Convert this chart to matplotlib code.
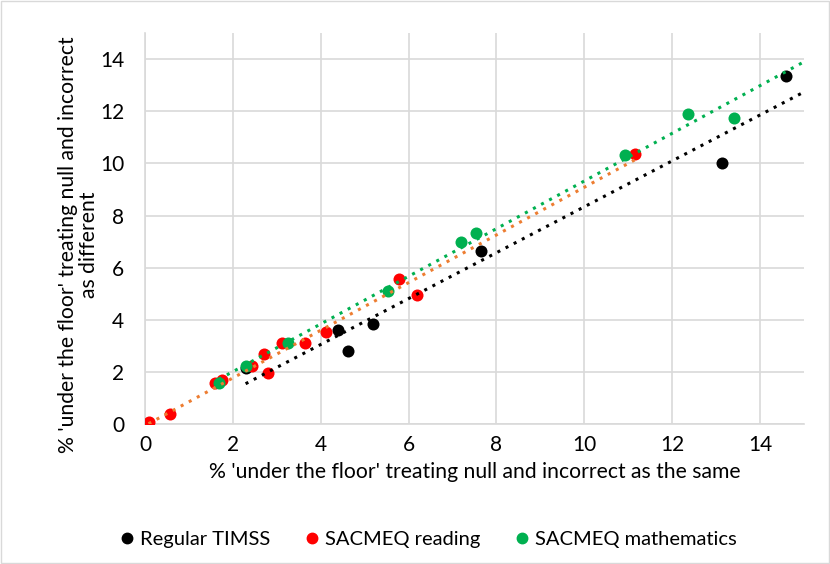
import numpy as np
import matplotlib.pyplot as plt
import matplotlib as mpl
from matplotlib.patches import Rectangle
from matplotlib.lines import Line2D

mpl.rcParams["font.family"] = ["Lato", "DejaVu Sans"]
FONT_TICK = 15
FONT_TITLE = 15.2
FONT_LEG = 14.5

# Regular TIMSS
timss_x = [2.29, 4.40, 4.63, 5.18, 7.65, 13.13, 14.59]
timss_y = [2.16, 3.61, 2.81, 3.84, 6.64, 10.00, 13.36]
# SACMEQ reading
read_x = [0.08, 0.57, 1.59, 1.76, 2.44, 2.70, 2.79, 3.11, 3.64, 4.12, 5.77, 6.20, 11.16]
read_y = [0.08, 0.39, 1.59, 1.70, 2.25, 2.69, 1.98, 3.10, 3.10, 3.55, 5.56, 4.94, 10.38]
# SACMEQ mathematics
math_x = [1.68, 2.31, 3.25, 5.52, 7.19, 7.54, 10.93, 12.35, 13.41]
math_y = [1.59, 2.25, 3.10, 5.12, 7.00, 7.32, 10.32, 11.90, 11.76]

series = [
    ("Regular TIMSS", timss_x, timss_y, "black", "black", 15),
    ("SACMEQ reading", read_x, read_y, "#FF0000", "#ED7D31", None),
    ("SACMEQ mathematics", math_x, math_y, "#00B050", "#00B050", 15),
]

fig = plt.figure(figsize=(8.3, 5.64), dpi=100)
ax = fig.add_axes([0.1747, 0.2477, 0.7940, 0.6938])

for name, xs, ys, col, tcol, xend in series:
    xs = np.array(xs)
    ys = np.array(ys)
    ax.scatter(xs, ys, s=75, color=col, zorder=3, label=name, linewidths=0)
    # linear trendline (Excel style, dotted)
    k, b = np.polyfit(xs, ys, 1)
    x1 = xs.max() if xend is None else xend
    tx = np.array([xs.min(), x1])
    ax.plot(tx, k * tx + b, linestyle=(0, (1, 2)), color=tcol, linewidth=2.2,
            zorder=4)

ax.set_xlim(0, 15)
ax.set_ylim(0, 15)
ax.set_xticks(np.arange(0, 15, 2))
ax.set_yticks(np.arange(0, 15, 2))
ax.grid(True, color="#D9D9D9", linewidth=1.2)
ax.set_axisbelow(True)
for s in ["top", "right"]:
    ax.spines[s].set_visible(False)
for s in ["left", "bottom"]:
    ax.spines[s].set_color("#D9D9D9")
    ax.spines[s].set_linewidth(1.2)
ax.tick_params(axis="x", length=0, labelsize=FONT_TICK, pad=8)
ax.tick_params(axis="y", length=0, labelsize=FONT_TICK, pad=15)

ax.set_xlabel("% 'under the floor' treating null and incorrect as the same",
              fontsize=FONT_TITLE, labelpad=5)
ax.set_ylabel("% 'under the floor' treating null and incorrect\nas different",
              fontsize=FONT_TITLE, linespacing=1.05)
ax.yaxis.set_label_coords(-0.07, 0.46)

handles = [Line2D([], [], marker="o", linestyle="none", color=c, markersize=7.5)
           for _, _, _, c, _, _ in series]
fig.legend(handles, [s[0] for s in series], loc="center", ncol=3,
           bbox_to_anchor=(0.516, 0.043), frameon=False, fontsize=FONT_LEG,
           handlelength=0.7, handletextpad=0.3, columnspacing=1.7)

fig.patches.append(Rectangle((0.001, 0.001), 0.998, 0.998, transform=fig.transFigure,
                             fill=False, edgecolor="#D9D9D9", linewidth=1))

fig.savefig("out.png", dpi=100)
